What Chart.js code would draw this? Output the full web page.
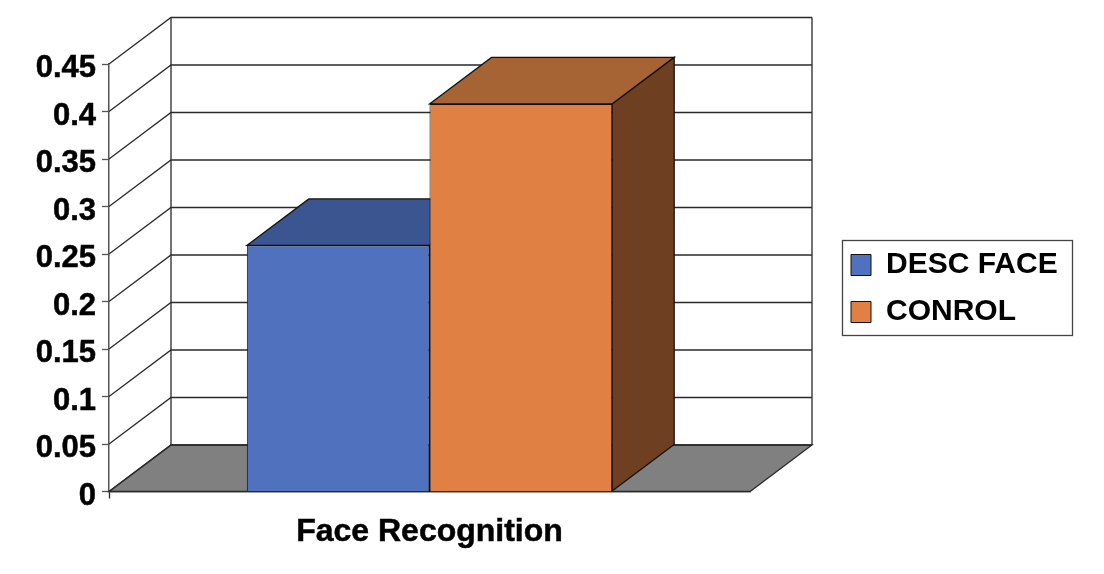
<!DOCTYPE html>
<html>
<head>
<meta charset="utf-8">
<title>Face Recognition</title>
<script src="https://cdn.jsdelivr.net/npm/chart.js@4/dist/chart.umd.min.js"></script>
<style>
  html, body { margin: 0; padding: 0; background: #fff; }
  canvas { display: block; }
</style>
</head>
<body>
<canvas id="bar-chart" width="1104" height="574"></canvas>
<script>
var categories = ["Face Recognition"];
var descFace = [0.259];
var conrol = [0.408];
var yMax = 0.45;
var yStep = 0.05;

var frontColors = ["#4f71be", "#e08143"];
var topColors = ["#3b5591", "#a66334"];
var sideColors = ["#2f4472", "#6e3f20"];

// depth of the fake 3d box, in px
var depthX = 62;
var depthY = -46.5;
var lineColor = "#2a2a2a";
var fontFamily = "'Liberation Sans', Arial, sans-serif";

function poly(ctx, pts, fill, stroke) {
  ctx.beginPath();
  ctx.moveTo(pts[0][0], pts[0][1]);
  for (var i = 1; i < pts.length; i++) ctx.lineTo(pts[i][0], pts[i][1]);
  ctx.closePath();
  if (fill) { ctx.fillStyle = fill; ctx.fill(); }
  if (stroke) { ctx.strokeStyle = stroke; ctx.lineWidth = 1.3; ctx.stroke(); }
}

var box3d = {
  id: "box3d",
  afterLayout: function (chart) {
    // move the legend into its own spot right of the plot
    var lg = chart.legend;
    lg.left = 834;
    lg.right = 1072;
    lg.top = 233;
    lg.bottom = 345;
    lg.adjustHitBoxes();
    // y labels sit a little under their ticks in the original
    chart.scales.y.getLabelItems(chart.chartArea).forEach(function (item) {
      item.textOffset += 4.5;
    });
  },
  beforeDatasetsDraw: function (chart) {
    var ctx = chart.ctx;
    var a = chart.chartArea;
    var y = chart.scales.y;
    var y0 = y.getPixelForValue(0);
    ctx.save();

    // floor
    poly(ctx, [[a.left, y0], [a.left + depthX, y0 + depthY], [a.right + depthX, y0 + depthY], [a.right, y0]], "#808080", lineColor);

    // walls and grid
    ctx.strokeStyle = lineColor;
    ctx.lineWidth = 1.3;
    y.ticks.forEach(function (t) {
      var py = y.getPixelForValue(t.value);
      ctx.beginPath();
      ctx.moveTo(a.left, py);
      ctx.lineTo(a.left + depthX, py + depthY);
      ctx.lineTo(a.right + depthX, py + depthY);
      ctx.stroke();
    });
    ctx.beginPath();
    ctx.moveTo(a.left + depthX, a.top + depthY);
    ctx.lineTo(a.left + depthX, y0 + depthY);
    ctx.moveTo(a.right + depthX, a.top + depthY);
    ctx.lineTo(a.right + depthX, y0 + depthY);
    ctx.stroke();

    // bar tops and sides, the fronts come from the bars themselves
    chart.data.datasets.forEach(function (ds, i) {
      var bar = chart.getDatasetMeta(i).data[0];
      var half = bar.width / 2;
      var l = bar.x - half, r = bar.x + half, t = bar.y, b = bar.base;
      poly(ctx, [[l, t], [l + depthX, t + depthY], [r + depthX, t + depthY], [r, t]], topColors[i], "#111");
      poly(ctx, [[r, t], [r + depthX, t + depthY], [r + depthX, b + depthY], [r, b]], sideColors[i], "#111");
    });
    ctx.restore();
  },
  afterDraw: function (chart) {
    var ctx = chart.ctx;
    ctx.save();
    ctx.strokeStyle = "#444";
    ctx.lineWidth = 1.3;
    ctx.strokeRect(842.5, 240.5, 230, 95);
    ctx.restore();
  }
};

new Chart(document.getElementById("bar-chart"), {
  type: "bar",
  plugins: [box3d],
  data: {
    labels: categories,
    datasets: [
      { label: "DESC FACE", data: descFace, backgroundColor: frontColors[0], borderColor: "#111", borderWidth: 1 },
      { label: "CONROL", data: conrol, backgroundColor: frontColors[1], borderColor: "#111", borderWidth: 1 }
    ]
  },
  options: {
    responsive: false,
    animation: false,
    devicePixelRatio: 1,
    categoryPercentage: 0.57,
    barPercentage: 1,
    layout: { padding: { top: 64, left: 0, right: 354, bottom: 0 } },
    plugins: {
      title: { display: false },
      tooltip: { enabled: false },
      legend: {
        position: "chartArea",
        align: "start",
        labels: {
          boxWidth: 20,
          boxHeight: 21,
          padding: 17,
          color: "#000",
          font: { family: fontFamily, size: 30, weight: "bold" }
        }
      }
    },
    scales: {
      x: {
        afterFit: function (s) { s.height = 82.5; },
        border: { color: lineColor, width: 1.3 },
        grid: {
          drawOnChartArea: false,
          tickLength: 7,
          tickWidth: 1.3,
          tickColor: function (c) { return c.index === 0 ? lineColor : "transparent"; }
        },
        ticks: {
          maxRotation: 0,
          padding: 14,
          color: "#000",
          textStrokeColor: "#000",
          textStrokeWidth: 0.5,
          font: { family: fontFamily, size: 32, weight: "bold" }
        }
      },
      y: {
        min: 0,
        max: yMax,
        afterFit: function (s) { s.width = 109; },
        border: { color: "#555", width: 1.5 },
        grid: { drawOnChartArea: false, tickLength: 7, tickWidth: 1.3, tickColor: "#555" },
        ticks: {
          stepSize: yStep,
          padding: 6,
          color: "#000",
          textStrokeColor: "#000",
          textStrokeWidth: 0.5,
          font: { family: fontFamily, size: 31, weight: "bold" },
          callback: function (v) { return String(+v.toFixed(2)); }
        }
      }
    }
  }
});
</script>
</body>
</html>
